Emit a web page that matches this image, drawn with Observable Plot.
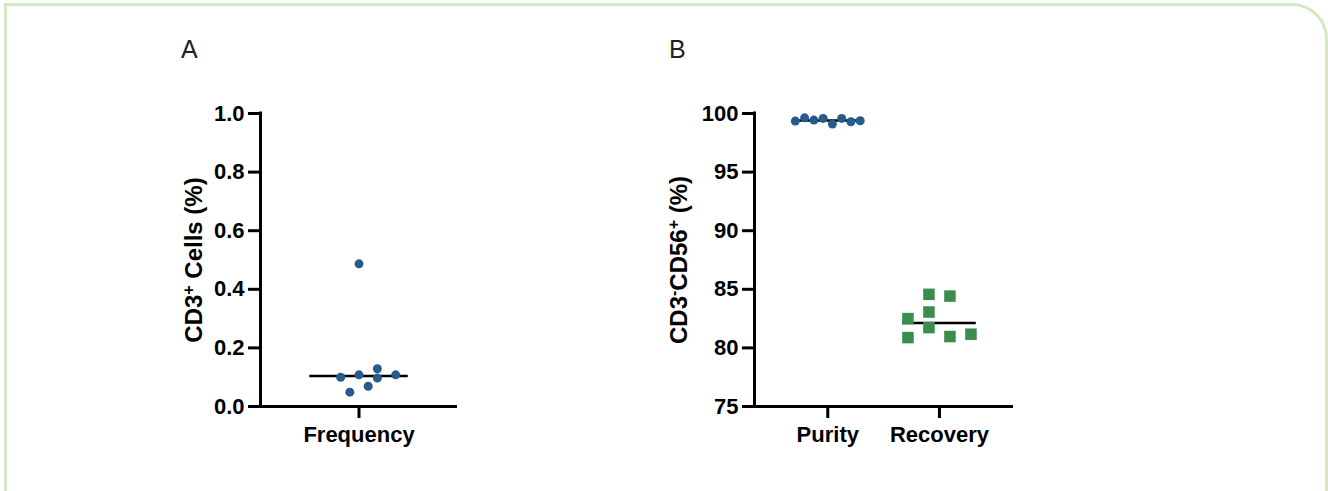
<!DOCTYPE html>
<html><head><meta charset="utf-8">
<script src="https://cdn.jsdelivr.net/npm/d3@7"></script>
<script src="https://cdn.jsdelivr.net/npm/@observablehq/plot@0.6"></script>
<style>
html,body{margin:0;padding:0;background:#fff;overflow:hidden;width:1328px;height:491px}
#frame{position:absolute;left:4px;top:3px;width:1324px;height:560px;box-sizing:border-box;border:3px solid #d2eac3;border-top-right-radius:36px}
.panel{position:absolute;top:60px}
.letter{position:absolute;font-family:"Liberation Sans",Arial,sans-serif;font-size:25px;line-height:25px;color:#222}
</style></head><body>
<div id="frame"></div>
<div class="letter" style="left:181px;top:37px">A</div>
<div class="letter" style="left:669px;top:37px">B</div>
<div id="pa" class="panel" style="left:160px"></div>
<div id="pb" class="panel" style="left:650px"></div>
<script>
// ---- data ----
const freqCategories = ["Frequency"];
const freqValues = [0.100, 0.049, 0.108, 0.069, 0.129, 0.097, 0.108, 0.487];
const freqSlots  = [-2, -1, 0, 1, 2, 2, 4, 0];

const bCategories = ["Purity", "Recovery"];
const purityValues = [99.35, 99.63, 99.44, 99.58, 99.10, 99.58, 99.30, 99.38];
const puritySlots  = [-3.5, -2.5, -1.5, -0.5, 0.5, 1.5, 2.5, 3.5];
const recoveryValues = [82.50, 80.88, 84.57, 83.06, 81.73, 84.42, 80.97, 81.17];
const recoverySlots  = [-1.5, -1.5, -0.5, -0.5, -0.5, 0.5, 0.5, 1.5];

const yTicksA = [0, 0.2, 0.4, 0.6, 0.8, 1.0];
const yTicksB = [75, 80, 85, 90, 95, 100];

// ---- styles ----
const BLUE = "#275b8e", GREEN = "#3a8d4c";
const FONT = '"Liberation Sans", Arial, Helvetica, sans-serif';

const freqData = freqValues.map((v, i) => ({cat: 0, slot: freqSlots[i], v}));
const purityData = purityValues.map((v, i) => ({cat: 0, slot: puritySlots[i], v}));
const recoveryData = recoveryValues.map((v, i) => ({cat: 1, slot: recoverySlots[i], v}));

function makePanel({width, marginLeft, marginRight, xDomain, yDomain, yTicks, yFormat, cats, marks}) {
  return Plot.plot({
    width, height: 400,
    marginLeft, marginRight, marginTop: 53, marginBottom: 54,
    x: {domain: xDomain, axis: null},
    y: {domain: yDomain, axis: null},
    style: {fontFamily: FONT, fontSize: "22px", fontWeight: "bold", color: "#000", background: "transparent", overflow: "visible"},
    marks: [
      Plot.axisY({ticks: yTicks, tickFormat: yFormat, tickSize: 12, tickPadding: 4, strokeWidth: 3, label: null, fontSize: 22}),
      Plot.axisX({ticks: cats.map((c, i) => i), tickFormat: i => cats[i], tickSize: 12, tickPadding: 8, strokeWidth: 3, label: null, fontSize: 22}),
      Plot.ruleX([xDomain[0]], {y1: yDomain[0], y2: yDomain[1], strokeWidth: 3, strokeLinecap: "square"}),
      Plot.ruleY([yDomain[0]], {strokeWidth: 3}),
      ...marks
    ]
  });
}

function addYLabel(svg, x, y, parts) {
  const t = d3.select(svg).append("text")
    .attr("transform", `translate(${x},${y}) rotate(-90)`)
    .attr("text-anchor", "middle")
    .attr("dy", "0.36em")
    .attr("fill", "#000")
    .style("font-family", FONT).style("font-weight", "bold").style("font-size", "24px");
  for (const [s, sup] of parts) {
    const ts = t.append("tspan").text(s);
    if (sup) ts.attr("baseline-shift", "super").style("font-size", "16px");
  }
}

// Panel A
const stepA = 0.082;
const svgA = makePanel({
  width: 310, marginLeft: 100, marginRight: 13,
  xDomain: [-0.88, 0.88], yDomain: [0, 1], yTicks: yTicksA, yFormat: d3.format(".1f"),
  cats: freqCategories,
  marks: [
    Plot.ruleY([d3.median(freqValues)], {x1: -0.44, x2: 0.44, strokeWidth: 2.5}),
    Plot.dot(freqData, {x: d => d.cat + d.slot * stepA, y: "v", r: 4.5, fill: BLUE})
  ]
});
addYLabel(svgA, 33, 200, [["CD3", false], ["+", true], [" Cells (%)", false]]);
document.getElementById("pa").append(svgA);

// Panel B
const stepPurity = 0.083, stepRecovery = 0.188;
const svgB = makePanel({
  width: 380, marginLeft: 104, marginRight: 17,
  xDomain: [-0.656, 1.663], yDomain: [75, 100], yTicks: yTicksB, yFormat: d3.format("d"),
  cats: bCategories,
  marks: [
    Plot.ruleY([d3.median(purityValues)], {x1: -0.3, x2: 0.3, strokeWidth: 2.5}),
    Plot.ruleY([d3.median(recoveryValues)], {x1: 1 - 0.33, x2: 1 + 0.33, strokeWidth: 2.5}),
    Plot.dot(purityData, {x: d => d.cat + d.slot * stepPurity, y: "v", r: 4.5, fill: BLUE}),
    Plot.dot(recoveryData, {x: d => d.cat + d.slot * stepRecovery, y: "v", r: 6.5, symbol: "square", fill: GREEN})
  ]
});
addYLabel(svgB, 28, 200, [["CD3", false], ["-", true], ["CD56", false], ["+", true], [" (%)", false]]);
document.getElementById("pb").append(svgB);
</script>
</body></html>
